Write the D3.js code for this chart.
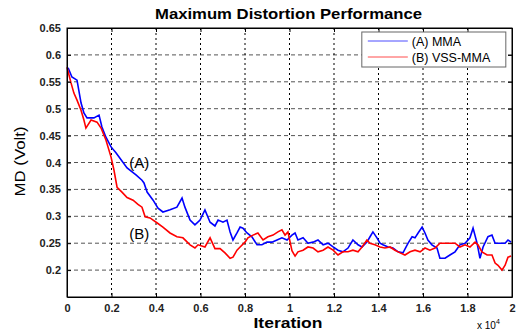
<!DOCTYPE html>
<html>
<head>
<meta charset="utf-8">
<script src="https://cdn.jsdelivr.net/npm/d3@7"></script>
<style>
  body { margin: 0; background: #fff; }
  text { font-family: "Liberation Sans", Arial, sans-serif; }
</style>
</head>
<body>
<div id="chart"></div>
<script>
// Data (iteration in units of 10^4, MD in volts)
const iterA = [0.005,0.022,0.045,0.063,0.076,0.09,0.121,0.144,0.157,0.175,0.198,0.22,0.243,0.27,0.31,0.337,0.346,0.36,0.387,0.409,0.431,0.463,0.494,0.517,0.53,0.553,0.575,0.598,0.62,0.643,0.665,0.679,0.701,0.719,0.733,0.746,0.764,0.778,0.791,0.809,0.831,0.854,0.876,0.899,0.921,0.944,0.966,0.989,1.011,1.025,1.038,1.061,1.083,1.106,1.128,1.151,1.173,1.196,1.218,1.24,1.263,1.285,1.308,1.326,1.348,1.362,1.375,1.393,1.407,1.42,1.443,1.465,1.488,1.51,1.533,1.551,1.564,1.578,1.596,1.609,1.622,1.64,1.663,1.676,1.699,1.721,1.744,1.766,1.789,1.811,1.825,1.843,1.856,1.87,1.892,1.91,1.924,1.946,1.969,1.982,1.996];
const mdA = [0.576,0.559,0.553,0.511,0.492,0.483,0.483,0.488,0.466,0.447,0.429,0.418,0.405,0.39,0.377,0.367,0.362,0.345,0.33,0.315,0.308,0.312,0.317,0.334,0.317,0.293,0.284,0.293,0.312,0.289,0.282,0.293,0.289,0.293,0.271,0.256,0.269,0.28,0.278,0.269,0.262,0.247,0.247,0.252,0.252,0.256,0.26,0.256,0.265,0.269,0.256,0.26,0.25,0.252,0.256,0.247,0.25,0.243,0.237,0.234,0.241,0.256,0.247,0.243,0.252,0.262,0.271,0.26,0.25,0.247,0.243,0.241,0.234,0.232,0.25,0.262,0.26,0.269,0.28,0.269,0.256,0.247,0.241,0.222,0.222,0.228,0.234,0.247,0.25,0.26,0.278,0.25,0.222,0.243,0.262,0.265,0.25,0.25,0.25,0.256,0.252];

const iterB = [0,0.018,0.031,0.045,0.063,0.076,0.085,0.108,0.135,0.153,0.175,0.198,0.211,0.225,0.247,0.27,0.297,0.319,0.337,0.351,0.373,0.404,0.431,0.463,0.494,0.521,0.553,0.575,0.589,0.62,0.643,0.665,0.688,0.71,0.733,0.746,0.764,0.778,0.8,0.813,0.836,0.858,0.881,0.903,0.926,0.948,0.966,0.98,0.993,1.011,1.025,1.038,1.061,1.083,1.106,1.128,1.151,1.173,1.196,1.218,1.24,1.263,1.285,1.308,1.326,1.348,1.362,1.384,1.407,1.429,1.452,1.474,1.497,1.519,1.542,1.564,1.587,1.609,1.631,1.654,1.676,1.699,1.721,1.744,1.766,1.789,1.811,1.834,1.847,1.865,1.888,1.91,1.924,1.937,1.955,1.969,1.982,1.996];
const mdB = [0.577,0.548,0.529,0.516,0.497,0.479,0.464,0.479,0.475,0.464,0.442,0.41,0.386,0.354,0.345,0.335,0.33,0.322,0.317,0.299,0.297,0.288,0.28,0.269,0.262,0.26,0.247,0.241,0.247,0.243,0.26,0.24,0.24,0.232,0.222,0.224,0.237,0.243,0.252,0.26,0.265,0.269,0.256,0.262,0.265,0.271,0.275,0.265,0.271,0.236,0.226,0.234,0.237,0.243,0.241,0.234,0.237,0.243,0.237,0.228,0.234,0.234,0.237,0.234,0.243,0.256,0.25,0.247,0.243,0.241,0.243,0.237,0.232,0.228,0.234,0.237,0.234,0.241,0.237,0.241,0.25,0.25,0.25,0.25,0.243,0.247,0.243,0.252,0.247,0.234,0.228,0.228,0.213,0.209,0.2,0.209,0.224,0.226];

const xTicks = [0,0.2,0.4,0.6,0.8,1,1.2,1.4,1.6,1.8,2];
const yTicks = [0.2,0.25,0.3,0.35,0.4,0.45,0.5,0.55,0.6,0.65];
const seriesNames = ["(A) MMA", "(B) VSS-MMA"];
const seriesColors = ["#0000ff", "#ff0000"];

const width = 518, height = 333;
const margin = { top: 28, right: 6, bottom: 36, left: 67 };
const plotW = width - margin.left - margin.right,
      plotH = height - margin.top - margin.bottom;

const svg = d3.select("#chart").append("svg")
  .attr("width", width)
  .attr("height", height);

const g = svg.append("g")
  .attr("transform", `translate(${margin.left},${margin.top})`);

const x = d3.scaleLinear().domain([0, 2]).range([0, plotW]);
const y = d3.scaleLinear().domain([0.15, 0.65]).range([plotH, 0]);

// Grid
g.append("g").selectAll("line")
  .data(yTicks.filter(d => d < 0.65))
  .join("line")
  .attr("x1", 0).attr("x2", plotW)
  .attr("y1", d => y(d)).attr("y2", d => y(d))
  .attr("stroke", "#555")
  .attr("stroke-dasharray", "4,3");

g.append("g").selectAll("line")
  .data(xTicks.filter(d => d > 0 && d < 2))
  .join("line")
  .attr("x1", d => x(d)).attr("x2", d => x(d))
  .attr("y1", 0).attr("y2", plotH)
  .attr("stroke", "#000")
  .attr("stroke-dasharray", "2,3");

// Lines
const line = d3.line().x(d => x(d[0])).y(d => y(d[1]));
const dataA = iterA.map((d, i) => [d, mdA[i]]);
const dataB = iterB.map((d, i) => [d, mdB[i]]);

g.append("path").datum(dataA)
  .attr("d", line).attr("fill", "none")
  .attr("stroke", seriesColors[0]).attr("stroke-width", 1.6);
g.append("path").datum(dataB)
  .attr("d", line).attr("fill", "none")
  .attr("stroke", seriesColors[1]).attr("stroke-width", 1.6);

// Axes (MATLAB style: inward ticks on all sides)
const axisStyle = sel => {
  sel.selectAll("text")
    .style("font-family", '"Liberation Sans", Arial, sans-serif')
    .style("font-weight", "bold")
    .style("font-size", "11px")
    .attr("fill", "#222");
  sel.select(".domain").attr("stroke", "#000");
  sel.selectAll(".tick line").attr("stroke", "#000");
};

g.append("g")
  .attr("transform", `translate(0,${plotH})`)
  .call(d3.axisBottom(x).tickValues(xTicks).tickSize(-4).tickSizeOuter(0).tickPadding(7)
    .tickFormat(d3.format("")))
  .call(axisStyle);

g.append("g")
  .call(d3.axisTop(x).tickValues(xTicks).tickSize(-4).tickSizeOuter(0).tickFormat(""))
  .call(axisStyle);

g.append("g")
  .call(d3.axisLeft(y).tickValues(yTicks).tickSize(-4).tickSizeOuter(0).tickPadding(6)
    .tickFormat(d3.format("")))
  .call(axisStyle);

g.append("g")
  .attr("transform", `translate(${plotW},0)`)
  .call(d3.axisRight(y).tickValues(yTicks).tickSize(-4).tickSizeOuter(0).tickFormat(""))
  .call(axisStyle);

// Frame
g.append("rect")
  .attr("width", plotW).attr("height", plotH)
  .attr("fill", "none").attr("stroke", "#000");

// Annotations
g.append("text").attr("x", x(0.28)).attr("y", y(0.39))
  .style("font-size", "15px").text("(A)");
g.append("text").attr("x", x(0.28)).attr("y", y(0.258))
  .style("font-size", "15px").text("(B)");

// Legend
const legend = g.append("g").attr("transform", `translate(${x(1.325)},4)`);
legend.append("rect")
  .attr("width", 144).attr("height", 35)
  .attr("fill", "#fff").attr("stroke", "#666");
seriesNames.forEach((name, i) => {
  legend.append("line")
    .attr("x1", 6).attr("x2", 46)
    .attr("y1", 9 + i * 16).attr("y2", 9 + i * 16)
    .attr("stroke", seriesColors[i]).attr("stroke-opacity", 0.7);
  legend.append("text")
    .attr("x", 50).attr("y", 13.5 + i * 16)
    .style("font-size", "12.5px")
    .text(name);
});

// Title and labels
svg.append("text")
  .attr("x", margin.left + plotW / 2 - 1).attr("y", 19)
  .attr("text-anchor", "middle")
  .attr("textLength", 267).attr("lengthAdjust", "spacingAndGlyphs")
  .style("font-size", "15px").style("font-weight", "bold")
  .text("Maximum Distortion Performance");

svg.append("text")
  .attr("x", 288).attr("y", 328)
  .attr("text-anchor", "middle")
  .attr("textLength", 69).attr("lengthAdjust", "spacingAndGlyphs")
  .style("font-size", "15px").style("font-weight", "bold")
  .text("Iteration");

svg.append("text")
  .attr("transform", `translate(25,${margin.top + plotH / 2 - 1}) rotate(-90)`)
  .attr("text-anchor", "middle")
  .attr("textLength", 70).attr("lengthAdjust", "spacingAndGlyphs")
  .style("font-size", "15px")
  .text("MD (Volt)");

const exp = svg.append("text")
  .attr("x", 477).attr("y", 329)
  .style("font-size", "10px");
exp.append("tspan").text("x 10");
exp.append("tspan").attr("dy", -5).style("font-size", "7px").text("4");
</script>
</body>
</html>
